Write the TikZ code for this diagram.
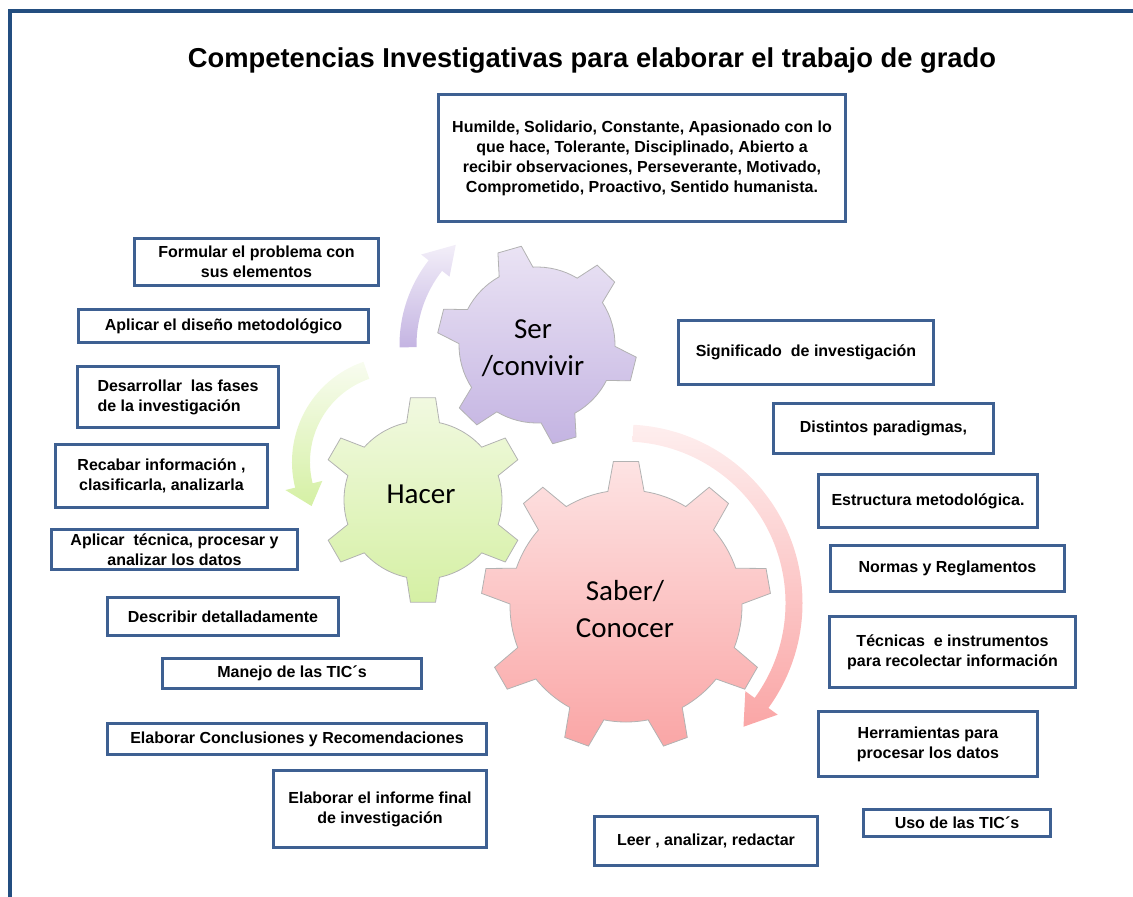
\documentclass[tikz,border=0pt]{standalone}
\usepackage{fontspec}
\setmainfont{Liberation Sans}
\newfontfamily\gearfont{Carlito}
\usetikzlibrary{positioning}

\definecolor{frameblue}{RGB}{35,78,128}
\definecolor{boxblue}{RGB}{62,96,146}
\definecolor{sertop}{RGB}{234,227,244}
\definecolor{serbottom}{RGB}{196,180,226}
\definecolor{hacertop}{RGB}{241,249,224}
\definecolor{hacerbottom}{RGB}{213,240,164}
\definecolor{sabertop}{RGB}{253,227,227}
\definecolor{saberbottom}{RGB}{250,166,166}

\begin{document}
\begin{tikzpicture}[x=0.75pt,y=0.75pt,
    box/.style 2 args={draw=boxblue,line width=2.25pt,fill=white,align=center,inner sep=0pt,
      minimum width=#1*0.75pt,minimum height=#2*0.75pt,font=\bfseries\fontsize{12}{15}\selectfont},
    geartext/.style={align=center,font=\gearfont\fontsize{21.75}{27.5}\selectfont},
    gearline/.style={draw=black!30,line width=0.6pt}]
  \useasboundingbox (0,0) rectangle (1133,-897);
  \draw[frameblue,line width=3pt] (10,-897) -- (10,-11) -- (1133,-11);
  \node[font=\bfseries\fontsize{20.5}{24}\selectfont] (titletext) at (592,-60)
    {Competencias Investigativas para elaborar el trabajo de grado};

  % arrows round the gears
  \shade[top color=sertop!60,bottom color=serbottom,shift={(537,-345)}]
    (181:137.5) arc[start angle=181,end angle=142,radius=137.5] -- (142:147) -- (129:129)
    -- (142:111) -- (142:120.5) arc[start angle=142,end angle=181,radius=120.5] -- cycle;
  \shade[top color=hacertop!50,bottom color=hacerbottom,shift={(398,-462)}]
    (109:106) arc[start angle=109,end angle=194,radius=106] -- (194:116) -- (207:97)
    -- (194:78) -- (194:88) arc[start angle=194,end angle=109,radius=88] -- cycle;
  \shade[top color=sabertop!60,bottom color=saberbottom,shift={(624,-603)}]
    (87:178.5) arc[start angle=87,end angle=-36,radius=178.5] -- (-36:190) -- (-46:172)
    -- (-36:150) -- (-36:161.5) arc[start angle=-36,end angle=87,radius=161.5] -- cycle;

  % gears
  \shadedraw[gearline,top color=sertop,bottom color=serbottom,shift={(537,-345)}]
    (93:78) \foreach \a in {106,166,...,406} {-- ({\a-7}:100) -- ({\a+7}:100) -- ({\a+13}:78)
      arc[start angle=\a+13,end angle=\a+47,radius=78]} -- cycle;
  \shadedraw[gearline,top color=hacertop,bottom color=hacerbottom,shift={(423,-500)}]
    (78:79) \foreach \a in {90,150,...,390} {-- ({\a-7}:103) -- ({\a+7}:103) -- ({\a+12}:79)
      arc[start angle=\a+12,end angle=\a+48,radius=79]} -- cycle;
  \shadedraw[gearline,top color=sabertop,bottom color=saberbottom,shift={(626,-606)}]
    (81:116) \foreach \a in {90,130,...,410} {-- ({\a-5}:145) -- ({\a+5}:145) -- ({\a+9}:116)
      arc[start angle=\a+9,end angle=\a+31,radius=116]} -- cycle;
  \node[geartext] (sertext) at (533,-348) {Ser\\/convivir};
  \node[geartext] (hacertext) at (421,-494) {Hacer};
  \node[geartext] (sabertext) at (625,-609) {Saber/\\Conocer};

  % boxes
  \node[box={407}{127}] (humildebox) at (642,-158) {Humilde, Solidario, Constante, Apasionado con lo\\que hace, Tolerante, Disciplinado, Abierto a\\recibir observaciones, Perseverante, Motivado,\\Comprometido, Proactivo, Sentido humanista.};
  \node[box={244}{47}] (formularbox) at (256.5,-262) {Formular el problema con\\sus elementos};
  \node[box={290}{33}] (disenobox) at (223.5,-326) {Aplicar el diseño metodológico};
  \node[box={201}{61},align=left] (fasesbox) at (178,-397) {Desarrollar\ \ las fases\\de la investigación};
  \node[box={212}{63}] (recabarbox) at (161.5,-476) {Recabar información ,\\clasificarla, analizarla};
  \node[box={246}{40}] (tecnicabox) at (174.5,-549.5) {Aplicar\ \ técnica, procesar y\\analizar los datos};
  \node[box={231}{38}] (describirbox) at (223,-616.5) {Describir detalladamente};
  \node[box={259}{30}] (manejobox) at (292,-673.5) {Manejo de las TIC´s};
  \node[box={379}{31}] (conclusionesbox) at (297,-739) {Elaborar Conclusiones y Recomendaciones};
  \node[box={213}{77},below=9.75pt of conclusionesbox.south east,anchor=north east] (informebox) {Elaborar el informe final\\de investigación};
  \node[box={255}{64}] (significadobox) at (806,-352.5) {Significado\ \ de investigación};
  \node[box={220}{50}] (paradigmasbox) at (883.5,-428.5) {Distintos paradigmas,};
  \node[box={219}{53}] (estructurabox) at (928,-501) {Estructura metodológica.};
  \node[box={234}{46}] (normasbox) at (947.5,-568.5) {Normas y Reglamentos};
  \node[box={246}{71}] (tecnicasbox) at (952.5,-652) {Técnicas\ \ e instrumentos\\para recolectar información};
  \node[box={219}{65}] (herramientasbox) at (928,-744) {Herramientas para\\procesar los datos};
  \node[box={187}{27}] (usobox) at (957,-823) {Uso de las TIC´s};
  \node[box={223}{49}] (leerbox) at (706,-841) {Leer , analizar, redactar};
\end{tikzpicture}
\end{document}
